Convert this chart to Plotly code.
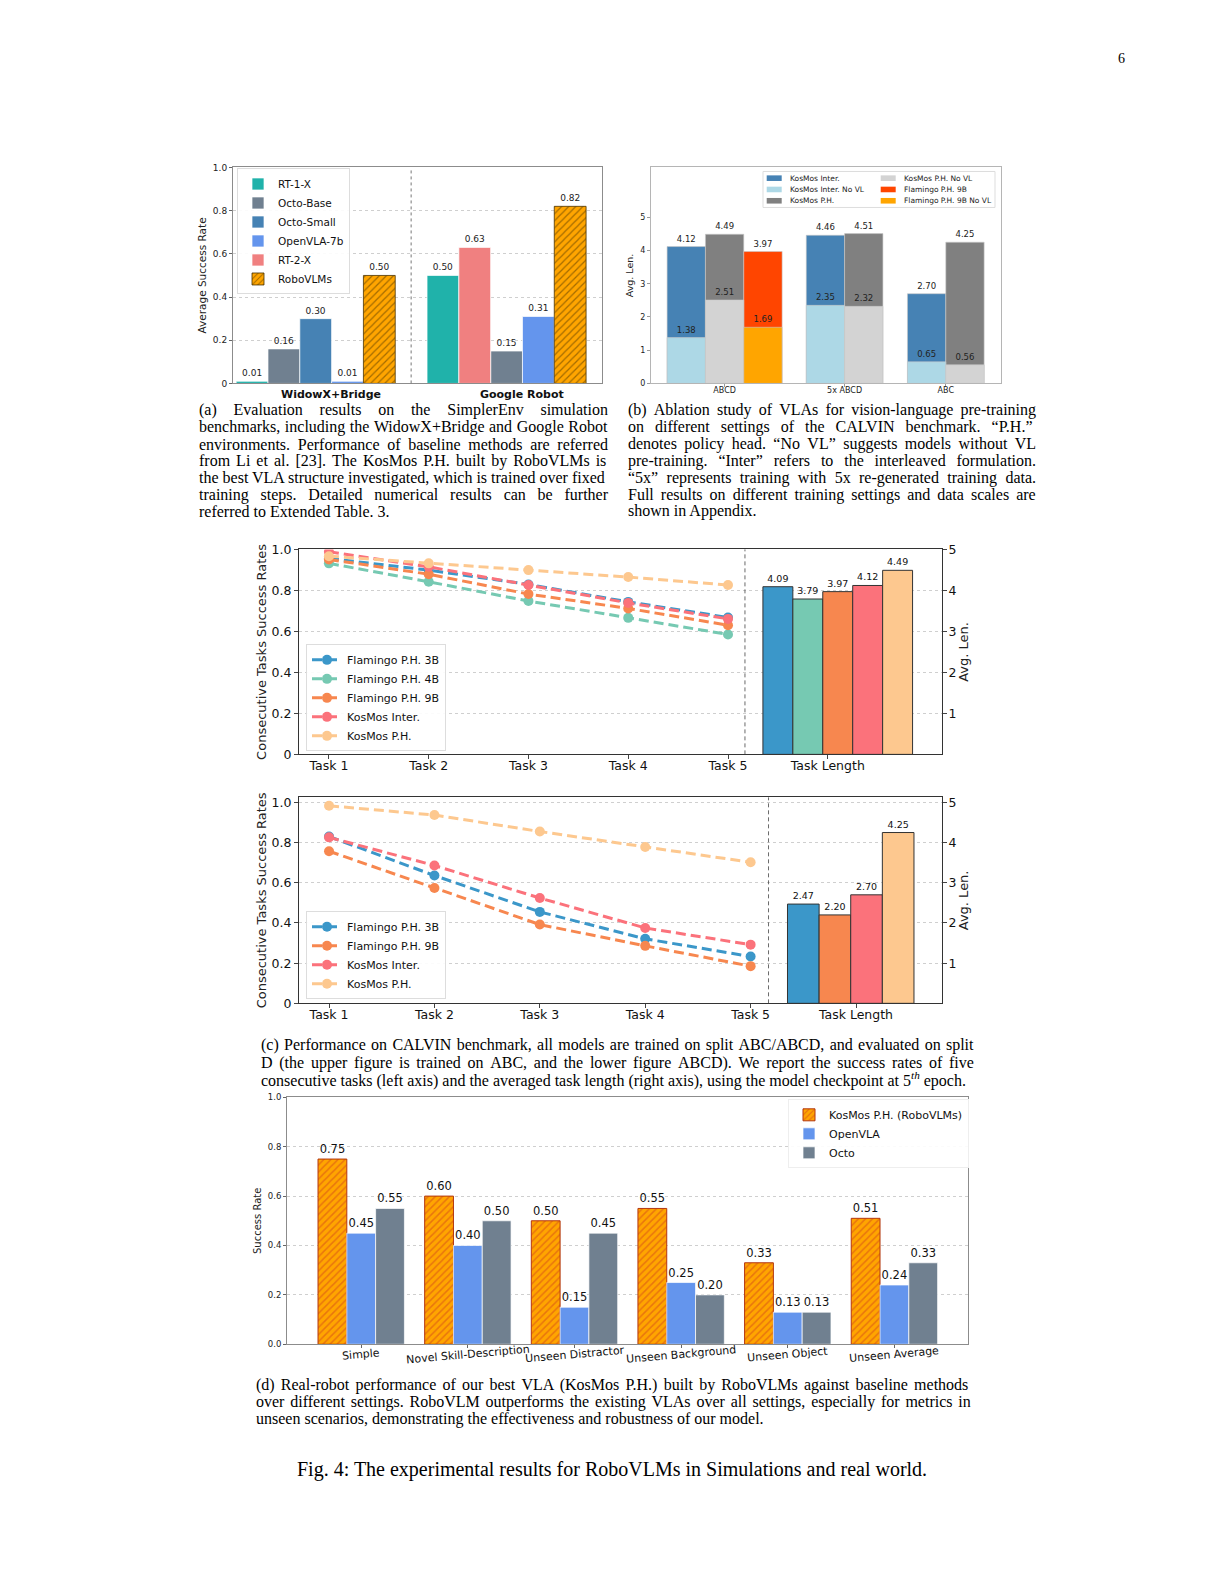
"""Fig. 4 of the RoboVLMs paper: SimplerEnv, CALVIN ablations and real-robot results."""

import plotly.graph_objects as go

PAGE_W, PAGE_H = 1224, 1584
BODY_MARGIN = 8  # default <body> margin of the html page
FIG_W, FIG_H = PAGE_W - 2 * BODY_MARGIN, PAGE_H - 2 * BODY_MARGIN
# measured placement of the figure in the captured page (vertical offset / scale)
PAGE_TOP, PAGE_SCALE_Y = 15.65, 0.9906

# (a) SimplerEnv average success rate
SIM_ENVS = ["WidowX+Bridge", "Google Robot"]
SIM_MODELS = ["RT-1-X", "Octo-Base", "Octo-Small", "OpenVLA-7b", "RT-2-X", "RoboVLMs"]
WIDOWX_MODELS = ["RT-1-X", "Octo-Base", "Octo-Small", "OpenVLA-7b", "RoboVLMs"]
WIDOWX_RATES = [0.01, 0.16, 0.30, 0.01, 0.50]
GOOGLE_MODELS = ["RT-1-X", "RT-2-X", "Octo-Base", "OpenVLA-7b", "RoboVLMs"]
GOOGLE_RATES = [0.50, 0.63, 0.15, 0.31, 0.82]

# (b) vision-language pre-training ablation (avg. len.)
ABL_SPLITS = ["ABCD", "5x ABCD", "ABC"]
ABL_MODELS = ["KosMos Inter.", "KosMos P.H.", "Flamingo P.H. 9B"]
INTER_LEN = [4.12, 4.46, 2.70]
INTER_NOVL = [1.38, 2.35, 0.65]
PH_LEN = [4.49, 4.51, 4.25]
PH_NOVL = [2.51, 2.32, 0.56]
FLAM9B_LEN = [3.97, None, None]
FLAM9B_NOVL = [1.69, None, None]

# (c) CALVIN consecutive task success rates
TASKS = ["Task 1", "Task 2", "Task 3", "Task 4", "Task 5"]
TOP_MODELS = ["Flamingo P.H. 3B", "Flamingo P.H. 4B", "Flamingo P.H. 9B",
              "KosMos Inter.", "KosMos P.H."]
TOP_FLAM3B = [0.956, 0.899, 0.829, 0.744, 0.668]
TOP_FLAM4B = [0.932, 0.842, 0.748, 0.666, 0.585]
TOP_FLAM9B = [0.951, 0.879, 0.782, 0.712, 0.630]
TOP_INTER = [0.989, 0.915, 0.826, 0.739, 0.661]
TOP_PH = [0.967, 0.932, 0.899, 0.865, 0.826]
TOP_AVG_LEN = [4.09, 3.79, 3.97, 4.12, 4.49]

BOT_MODELS = ["Flamingo P.H. 3B", "Flamingo P.H. 9B", "KosMos Inter.", "KosMos P.H."]
BOT_FLAM3B = [0.830, 0.636, 0.455, 0.321, 0.233]
BOT_FLAM9B = [0.757, 0.574, 0.392, 0.286, 0.185]
BOT_INTER = [0.826, 0.686, 0.524, 0.375, 0.292]
BOT_PH = [0.983, 0.937, 0.855, 0.778, 0.702]
BOT_AVG_LEN = [2.47, 2.20, 2.70, 4.25]

# (d) real robot
REAL_SETTINGS = ["Simple", "Novel Skill-Description", "Unseen Distractor",
                 "Unseen Background", "Unseen Object", "Unseen Average"]
REAL_MODELS = ["KosMos P.H. (RoboVLMs)", "OpenVLA", "Octo"]
REAL_KOSMOS = [0.75, 0.60, 0.50, 0.55, 0.33, 0.51]
REAL_OPENVLA = [0.45, 0.40, 0.15, 0.25, 0.13, 0.24]
REAL_OCTO = [0.55, 0.50, 0.45, 0.20, 0.13, 0.33]

CAPTION_A = [
    "(a) Evaluation results on the SimplerEnv simulation",
    "benchmarks, including the WidowX+Bridge and Google Robot",
    "environments. Performance of baseline methods are referred",
    "from Li et al. [23]. The KosMos P.H. built by RoboVLMs is",
    "the best VLA structure investigated, which is trained over fixed",
    "training steps. Detailed numerical results can be further",
    "referred to Extended Table. 3.",
]
CAPTION_B = [
    "(b) Ablation study of VLAs for vision-language pre-training",
    "on different settings of the CALVIN benchmark. \u201cP.H.\u201d",
    "denotes policy head. \u201cNo VL\u201d suggests models without VL",
    "pre-training. \u201cInter\u201d refers to the interleaved formulation.",
    "\u201c5x\u201d represents training with 5x re-generated training data.",
    "Full results on different training settings and data scales are",
    "shown in Appendix.",
]
CAPTION_C = [
    "(c) Performance on CALVIN benchmark, all models are trained on split ABC/ABCD, and evaluated on split",
    "D (the upper figure is trained on ABC, and the lower figure ABCD). We report the success rates of five",
    "consecutive tasks (left axis) and the averaged task length (right axis), using the model checkpoint at 5<sup><i>th</i></sup> epoch.",
]
CAPTION_D = [
    "(d) Real-robot performance of our best VLA (KosMos P.H.) built by RoboVLMs against baseline methods",
    "over different settings. RoboVLM outperforms the existing VLAs over all settings, especially for metrics in",
    "unseen scenarios, demonstrating the effectiveness and robustness of our model.",
]
FIG_CAPTION = "Fig. 4: The experimental results for RoboVLMs in Simulations and real world."

# styles
HATCH_ORANGE = "#ffa500"
SIM_COLORS = {
    "RT-1-X": "#20b2aa",
    "Octo-Base": "#708090",
    "Octo-Small": "#4682b4",
    "OpenVLA-7b": "#6495ed",
    "RT-2-X": "#f08080",
}
ABL_COLORS = {
    "KosMos Inter.": ("#4682b4", "#add8e6"),
    "KosMos P.H.": ("#808080", "#d3d3d3"),
    "Flamingo P.H. 9B": ("#ff4500", "#ffa500"),
}
CALVIN_COLORS = {
    "Flamingo P.H. 3B": "#3b97c9",
    "Flamingo P.H. 4B": "#76c9b2",
    "Flamingo P.H. 9B": "#f7874f",
    "KosMos Inter.": "#fb727b",
    "KosMos P.H.": "#fdc88f",
}
REAL_COLORS = ["#ffa500", "#6495ed", "#708090"]

ABL_SPLIT_POS = [0.0, 3.13, 5.77]
CALVIN_BAR_START, CALVIN_BAR_W, CALVIN_DIVIDER = 4.5, 0.3, 4.17
REAL_BAR_W = 0.27

SANS = "DejaVu Sans"
SERIF = "Liberation Serif"
CAPTION_SIZE = 16

# Times advance widths (1/1000 em), used to justify caption lines
TIMES_W = {" ": 250, "(": 333, ")": 333, ",": 250, ".": 250, "-": 333, "/": 278,
           ":": 278, "[": 333, "]": 333, "+": 564, "\u201c": 444, "\u201d": 444}
TIMES_W.update({d: 500 for d in "0123456789"})
TIMES_W.update(zip("ABCDEFGHIJKLMNOPQRSTUVWXYZ",
                   [722, 667, 667, 722, 611, 556, 722, 722, 333, 389, 722, 611, 889,
                    722, 722, 556, 722, 667, 556, 611, 722, 722, 944, 722, 722, 611]))
TIMES_W.update(zip("abcdefghijklmnopqrstuvwxyz",
                   [444, 500, 444, 500, 444, 333, 500, 500, 278, 278, 500, 278, 778,
                    500, 500, 500, 500, 333, 389, 278, 500, 500, 722, 500, 500, 444]))


def fx(px):
    return (px - BODY_MARGIN) / FIG_W


def fy(py):
    return 1 - (py / PAGE_SCALE_Y - PAGE_TOP) / FIG_H


def justify(line, width, size=CAPTION_SIZE):
    """Widen every word gap by the same amount so the line fills the column."""
    words = line.split(" ")
    gaps = len(words) - 1
    natural = sum(TIMES_W.get(c, 500) for c in line) * size / 1000
    per_gap = (width - natural) / gaps if gaps else 0
    if per_gap < 0.3:
        return line
    # whole no-break spaces, then one smaller no-break space (1/4 em) for the rest
    space_w = 250 * size / 1000
    whole = int(per_gap // space_w)
    rest = per_gap - whole * space_w
    filler = "\u00a0" * whole
    if rest > 0.2:
        filler += f'<span style="font-size:{rest * 4:.2f}px">\u00a0</span>'
    return (" " + filler).join(words)


fig = go.Figure()

# ---------------- (a) ----------------
google_offset = len(WIDOWX_MODELS) + 1
for model in SIM_MODELS:
    xs, ys = [], []
    for slot, (name, rate) in enumerate(zip(WIDOWX_MODELS, WIDOWX_RATES)):
        if name == model:
            xs.append(slot)
            ys.append(rate)
    for slot, (name, rate) in enumerate(zip(GOOGLE_MODELS, GOOGLE_RATES)):
        if name == model:
            xs.append(slot + google_offset)
            ys.append(rate)
    if model == "RoboVLMs":
        marker = dict(color=HATCH_ORANGE,
                      pattern=dict(shape="/", bgcolor=HATCH_ORANGE, fgcolor="#4a3200",
                                   size=5, solidity=0.25),
                      line=dict(color="#4a3200", width=0.8))
    else:
        marker = dict(color=SIM_COLORS[model], line=dict(color="rgba(255,255,255,0.7)", width=1))
    fig.add_trace(go.Bar(
        x=xs, y=ys, width=1.0, name=model, marker=marker,
        text=[f"{v:.2f}" for v in ys], textposition="outside", constraintext="none",
        textfont=dict(size=9, color="#222"), cliponaxis=False,
        xaxis="x", yaxis="y", legend="legend",
    ))

# ---------------- (b) ----------------
abl_len = {"KosMos Inter.": INTER_LEN, "KosMos P.H.": PH_LEN, "Flamingo P.H. 9B": FLAM9B_LEN}
abl_novl = {"KosMos Inter.": INTER_NOVL, "KosMos P.H.": PH_NOVL, "Flamingo P.H. 9B": FLAM9B_NOVL}


def abl_positions(model, values):
    xs, ys = [], []
    for s, center in enumerate(ABL_SPLIT_POS):
        if values[s] is None:
            continue
        present = [m for m in ABL_MODELS if abl_len[m][s] is not None]
        j = present.index(model)
        xs.append(center + (j - (len(present) - 1) / 2))
        ys.append(values[s])
    return xs, ys


for source, shade in ((abl_len, 0), (abl_novl, 1)):
    for model in ABL_MODELS:
        xs, ys = abl_positions(model, source[model])
        fig.add_trace(go.Bar(
            x=xs, y=ys, width=1.0, showlegend=False,
            marker=dict(color=ABL_COLORS[model][shade], line=dict(color="rgba(200,200,200,0.6)", width=1)),
            text=[f"{v:.2f}" for v in ys], textposition="outside", constraintext="none",
            textfont=dict(size=8.5, color="#222"), cliponaxis=False,
            xaxis="x2", yaxis="y2",
        ))

# ---------------- (c) ----------------
top_rates = [TOP_FLAM3B, TOP_FLAM4B, TOP_FLAM9B, TOP_INTER, TOP_PH]
bot_rates = [BOT_FLAM3B, BOT_FLAM9B, BOT_INTER, BOT_PH]

for models, rates, lens, xa, ya, yb, leg in (
    (TOP_MODELS, top_rates, TOP_AVG_LEN, "x3", "y3", "y4", "legend2"),
    (BOT_MODELS, bot_rates, BOT_AVG_LEN, "x4", "y5", "y6", "legend3"),
):
    for model, vals in zip(models, rates):
        fig.add_trace(go.Scatter(
            x=list(range(len(TASKS))), y=vals, mode="lines+markers", name=model,
            line=dict(color=CALVIN_COLORS[model], width=3, dash="10px,5px"),
            marker=dict(color=CALVIN_COLORS[model], size=10),
            xaxis=xa, yaxis=ya, legend=leg,
        ))
    for i, (model, avg) in enumerate(zip(models, lens)):
        fig.add_trace(go.Bar(
            x=[CALVIN_BAR_START + i * CALVIN_BAR_W], y=[avg], width=CALVIN_BAR_W,
            showlegend=False,
            marker=dict(color=CALVIN_COLORS[model], line=dict(color="#333", width=1)),
            text=[f"{avg:.2f}"], textposition="outside", constraintext="none",
            textfont=dict(size=9.5, color="#111"), cliponaxis=False,
            xaxis=xa, yaxis=yb,
        ))

# ---------------- (d) ----------------
real_values = [REAL_KOSMOS, REAL_OPENVLA, REAL_OCTO]
for k, (model, vals) in enumerate(zip(REAL_MODELS, real_values)):
    if k == 0:
        marker = dict(color=HATCH_ORANGE,
                      pattern=dict(shape="/", bgcolor=HATCH_ORANGE, fgcolor="#d2451a",
                                   size=5, solidity=0.3),
                      line=dict(color="#b3360f", width=1))
    else:
        marker = dict(color=REAL_COLORS[k], line=dict(color="rgba(255,255,255,0.7)", width=1))
    fig.add_trace(go.Bar(
        x=[i + (k - 1) * REAL_BAR_W for i in range(len(REAL_SETTINGS))], y=vals,
        width=REAL_BAR_W, name=model, marker=marker,
        text=[f"{v:.2f}" for v in vals], textposition="outside", constraintext="none",
        textfont=dict(size=11.5, color="#111"), cliponaxis=False,
        xaxis="x5", yaxis="y7", legend="legend4",
    ))

# ---------------- layout ----------------
frame = dict(showline=True, mirror=True, linewidth=1, zeroline=False)
grid = dict(showgrid=True, gridcolor="#cfcfcf", griddash="dot", gridwidth=1)
rate_ticks = [0, 0.2, 0.4, 0.6, 0.8, 1.0]
rate_text = ["0", "0.2", "0.4", "0.6", "0.8", "1.0"]
calvin_x = dict(tickvals=list(range(len(TASKS) + 1)), ticktext=TASKS + ["Task Length"],
                ticks="outside", ticklen=4, ticklabelstandoff=-4,
                tickfont=dict(size=12.5, color="#111"),
                showgrid=False, linecolor="#333", **frame)
calvin_left = dict(tickvals=rate_ticks, ticktext=rate_text, ticks="outside", ticklen=4,
                   tickfont=dict(size=12.5, color="#111"),
                   title=dict(text="Consecutive Tasks Success Rates", font=dict(size=13), standoff=2),
                   linecolor="#333", **grid, **frame)
calvin_right = dict(side="right", tickvals=[1, 2, 3, 4, 5], ticks="outside", ticklen=4,
                    ticklabelstandoff=-1, tickfont=dict(size=12.5, color="#111"),
                    showgrid=False, zeroline=False,
                    title=dict(text="Avg. Len.", font=dict(size=13), standoff=0))
box_legend = dict(bgcolor="rgba(255,255,255,0.9)", bordercolor="#dddddd", borderwidth=1,
                  font=dict(size=11, color="#111"))

fig.update_layout(
    width=FIG_W, height=FIG_H,
    margin=dict(l=0, r=0, t=0, b=0),
    paper_bgcolor="white", plot_bgcolor="white",
    font=dict(family=SANS, color="#222"),
    barmode="overlay",
    xaxis=dict(domain=[fx(233), fx(602)], anchor="y", range=[-0.6, 11.0],
               tickvals=[2.48, 8.48], ticktext=[f"<b>{e}</b>" for e in SIM_ENVS],
               ticks="", tickfont=dict(size=11, color="#111"), showgrid=False,
               linecolor="#8c8c8c", **frame),
    yaxis=dict(domain=[fy(383), fy(167)], anchor="x", range=[0, 1.0],
               tickvals=rate_ticks, ticktext=rate_text,
               ticks="outside", ticklen=3, tickcolor="#666", tickfont=dict(size=9),
               title=dict(text="Average Success Rate", font=dict(size=10.5), standoff=4),
               linecolor="#8c8c8c", **grid, **frame),
    xaxis2=dict(domain=[fx(651), fx(1001)], anchor="y2", range=[-1.92, 7.21],
                tickvals=ABL_SPLIT_POS, ticktext=ABL_SPLITS, ticks="outside", ticklen=3,
                ticklabelstandoff=-4, tickcolor="#999", tickfont=dict(size=8), showgrid=False,
                linecolor="#b5b5b5", **frame),
    yaxis2=dict(domain=[fy(383), fy(167)], anchor="x2", range=[0, 6.5],
                tickvals=[0, 1, 2, 3, 4, 5], ticks="outside", ticklen=3, tickcolor="#999",
                tickfont=dict(size=8), showgrid=False,
                title=dict(text="Avg. Len.", font=dict(size=9.5), standoff=4),
                linecolor="#b5b5b5", **frame),
    xaxis3=dict(domain=[fx(299), fx(942)], anchor="y3", range=[-0.3, 6.145], **calvin_x),
    yaxis3=dict(domain=[fy(754), fy(549)], anchor="x3", range=[0, 1.0], **calvin_left),
    yaxis4=dict(overlaying="y3", anchor="x3", range=[0, 5.0], **calvin_right),
    xaxis4=dict(domain=[fx(299), fx(942)], anchor="y5", range=[-0.285, 5.816], **calvin_x),
    yaxis5=dict(domain=[fy(1003), fy(797)], anchor="x4", range=[0, 1.025], **calvin_left),
    yaxis6=dict(overlaying="y5", anchor="x4", range=[0, 5.125], **calvin_right),
    xaxis5=dict(domain=[fx(287), fx(968)], anchor="y7", range=[-0.696, 5.69],
                tickvals=list(range(len(REAL_SETTINGS))), showticklabels=False,
                ticks="outside", ticklen=3, tickcolor="#666", showgrid=False,
                linecolor="#8c8c8c", **frame),
    yaxis7=dict(domain=[fy(1344), fy(1097)], anchor="x5", range=[0, 1.0],
                tickvals=rate_ticks, ticktext=[f"{t:.1f}" for t in rate_ticks],
                ticks="outside", ticklen=3, tickcolor="#666", tickfont=dict(size=8.5),
                title=dict(text="Success Rate", font=dict(size=10), standoff=4),
                linecolor="#8c8c8c", **grid, **frame),
    legend=dict(x=fx(237), y=fy(168), xanchor="left", yanchor="top", tracegroupgap=0,
                **{**box_legend, "font": dict(size=10.5, color="#111")}),
    legend2=dict(x=fx(306), y=fy(751), xanchor="left", yanchor="bottom", **box_legend),
    legend3=dict(x=fx(306), y=fy(999), xanchor="left", yanchor="bottom", **box_legend),
    legend4=dict(x=fx(788), y=fy(1099), xanchor="left", yanchor="top",
                 **{**box_legend, "bordercolor": "#eeeeee"}),
)

# divider lines
fig.add_shape(type="line", xref="x", yref="y domain", x0=google_offset - 1, x1=google_offset - 1,
              y0=0, y1=1, line=dict(color="#777", width=1, dash="dot"))
for xa, ya in (("x3", "y3"), ("x4", "y5")):
    fig.add_shape(type="line", xref=xa, yref=f"{ya} domain", x0=CALVIN_DIVIDER, x1=CALVIN_DIVIDER,
                  y0=0, y1=1, line=dict(color="#444", width=0.8, dash="4px,3px"))

# (b) legend: two columns in one box
fig.add_shape(type="rect", xref="paper", yref="paper", x0=fx(763), x1=fx(995),
              y0=fy(207), y1=fy(171), line=dict(color="#dddddd", width=1),
              fillcolor="white")
abl_entries = []
for model in ABL_MODELS:
    abl_entries.append((model, ABL_COLORS[model][0]))
    abl_entries.append((model + " No VL", ABL_COLORS[model][1]))
for i, (label, color) in enumerate(abl_entries):
    col, row = divmod(i, 3)
    yc = 177.7 + row * 11.3
    x0 = 766.7 + col * 114
    fig.add_shape(type="rect", xref="paper", yref="paper", x0=fx(x0), x1=fx(x0 + 15),
                  y0=fy(yc + 2.8), y1=fy(yc - 2.8), line=dict(width=0), fillcolor=color)
    fig.add_annotation(x=fx(x0 + 21.6), y=fy(yc), xref="paper", yref="paper", text=label,
                       xanchor="left", yanchor="middle", showarrow=False,
                       font=dict(size=7.5, color="#222"))

# (d) rotated category labels
for i, setting in enumerate(REAL_SETTINGS):
    fig.add_annotation(x=i, xref="x5", y=fy(1354), yref="paper", text=setting,
                       xanchor="center", yanchor="middle", textangle=-5, showarrow=False,
                       font=dict(size=11, color="#111"))

# captions (justified like the two-column paper layout, last line ragged)
for lines, left, right, y0, step in (
    (CAPTION_A, 197, 606, 410, 16.83),
    (CAPTION_B, 626, 1034, 410, 16.83),
    (CAPTION_C, 259, 973, 1045, 17.2),
    (CAPTION_D, 254, 969, 1385, 16.8),
):
    for i, line in enumerate(lines):
        text = justify(line, right - left) if i < len(lines) - 1 else line
        fig.add_annotation(x=fx(left), y=fy(y0 + i * step), xref="paper", yref="paper",
                           text=text, xanchor="left", yanchor="middle", showarrow=False,
                           font=dict(family=SERIF, size=CAPTION_SIZE, color="#000"))

fig.add_annotation(x=fx(612), y=fy(1469), xref="paper", yref="paper", text=FIG_CAPTION,
                   xanchor="center", yanchor="middle", showarrow=False,
                   font=dict(family=SERIF, size=20, color="#000"))
fig.add_annotation(x=fx(1121), y=fy(57.6), xref="paper", yref="paper", text="6",
                   xanchor="center", yanchor="middle", showarrow=False,
                   font=dict(family=SERIF, size=14, color="#000"))

fig.write_html("out.html")
